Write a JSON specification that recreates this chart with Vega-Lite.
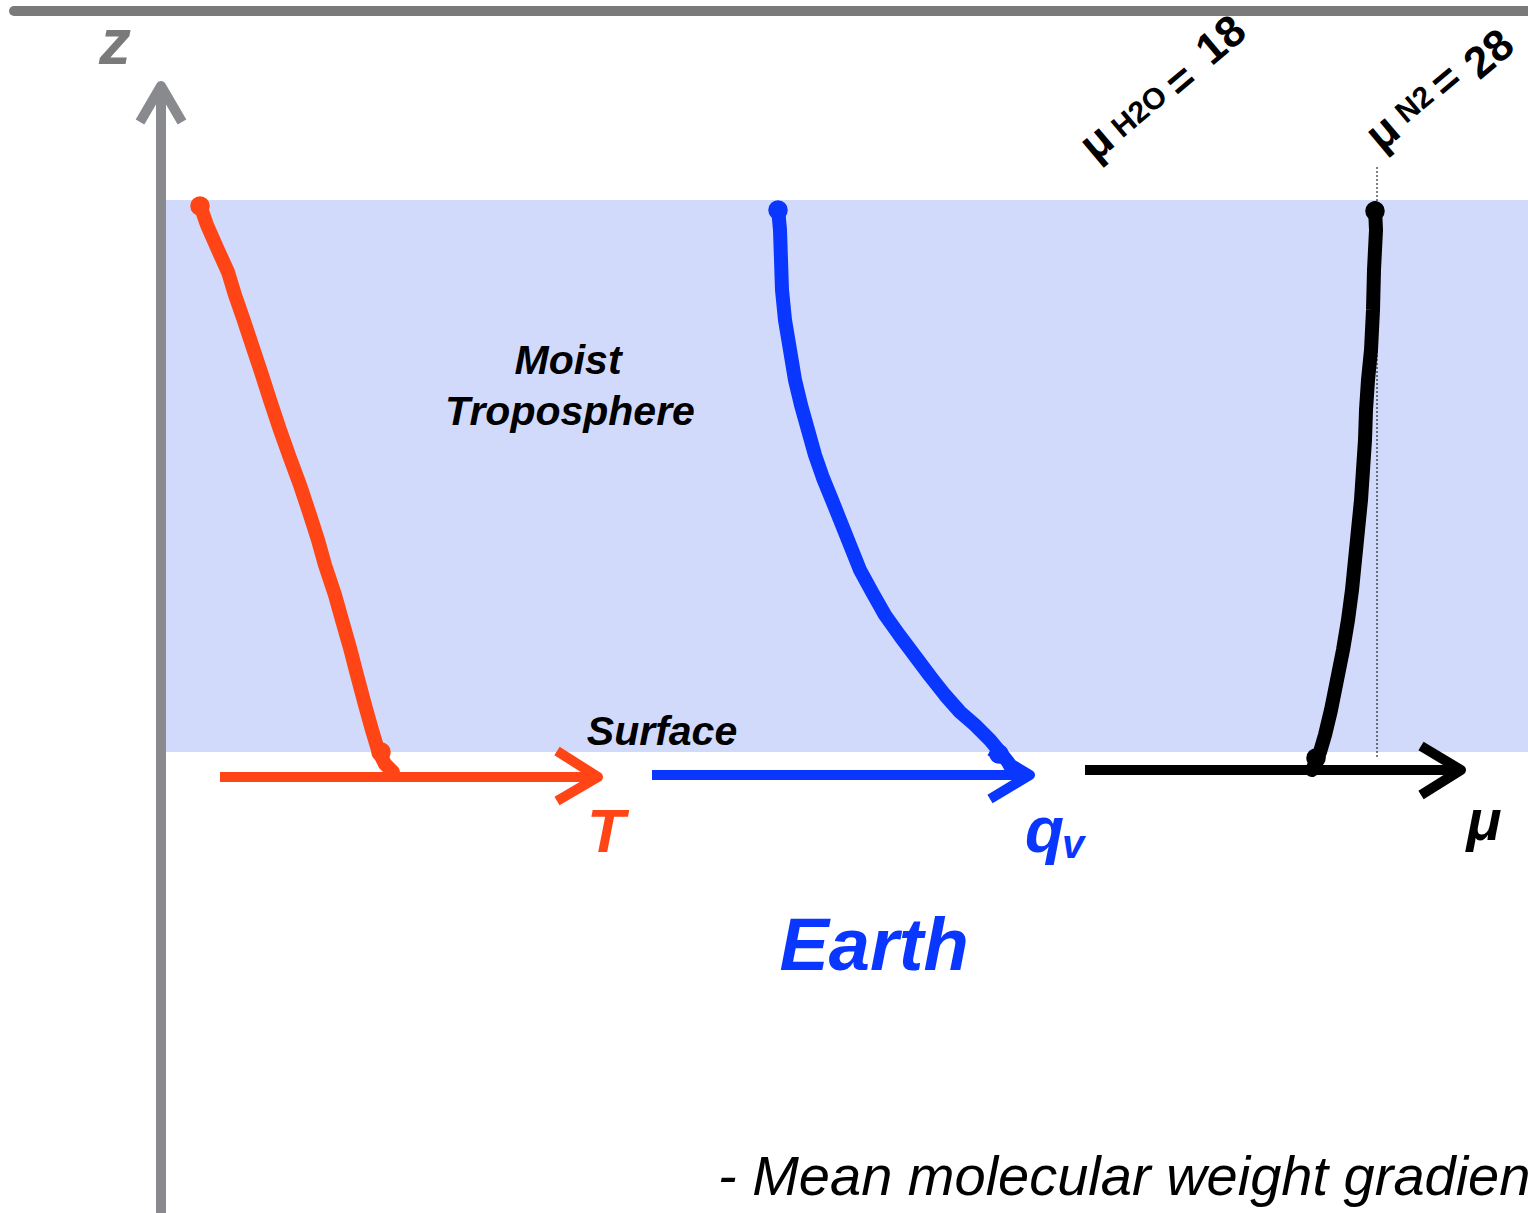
{
  "$schema": "https://vega.github.io/schema/vega-lite/v6.json",
  "autosize": "none",
  "width": 1528,
  "height": 1213,
  "padding": 0,
  "background": "white",
  "config": {"view": {"stroke": null}, "text": {"font": "Liberation Sans"}},
  "encoding": {
    "x": {"field": "x", "type": "quantitative", "scale": {"domain": [0, 1528], "nice": false, "zero": false}, "axis": null},
    "y": {"field": "y", "type": "quantitative", "scale": {"domain": [0, 1213], "nice": false, "zero": false, "reverse": true}, "axis": null}
  },
  "layer": [
    {
      "data": {"values": [{"x": 160, "x2": 1528, "y": 200, "y2": 752}]},
      "mark": {"type": "rect", "color": "#d2dafc"},
      "encoding": {"x2": {"field": "x2"}, "y2": {"field": "y2"}}
    },
    {
      "data": {"values": [{"x": 14, "y": 11}, {"x": 1535, "y": 11}]},
      "mark": {"type": "line", "color": "#7a7a7a", "strokeWidth": 10, "strokeCap": "round"},
      "encoding": {}
    },
    {
      "data": {"values": [{"x": 1377, "y": 167, "y2": 757}]},
      "mark": {"type": "rule", "color": "#000000", "strokeWidth": 1, "strokeDash": [2, 2]},
      "encoding": {"y2": {"field": "y2"}}
    },
    {
      "data": {"values": [
        {"s": "z", "seg": "z1", "i": 0, "x": 161, "y": 1220},
        {"s": "z", "seg": "z1", "i": 1, "x": 161, "y": 88},
        {"s": "z", "seg": "z2", "i": 0, "x": 140, "y": 122},
        {"s": "z", "seg": "z2", "i": 1, "x": 161, "y": 86},
        {"s": "z", "seg": "z2", "i": 2, "x": 182, "y": 122},
        {"s": "T", "seg": "T1", "i": 0, "x": 220, "y": 777},
        {"s": "T", "seg": "T1", "i": 1, "x": 595, "y": 777},
        {"s": "T", "seg": "T2", "i": 0, "x": 557, "y": 751},
        {"s": "T", "seg": "T2", "i": 1, "x": 598, "y": 777},
        {"s": "T", "seg": "T2", "i": 2, "x": 557, "y": 801},
        {"s": "q", "seg": "q1", "i": 0, "x": 652, "y": 775},
        {"s": "q", "seg": "q1", "i": 1, "x": 1027, "y": 775},
        {"s": "q", "seg": "q2", "i": 0, "x": 990, "y": 751},
        {"s": "q", "seg": "q2", "i": 1, "x": 1030, "y": 775},
        {"s": "q", "seg": "q2", "i": 2, "x": 990, "y": 799},
        {"s": "mu", "seg": "m1", "i": 0, "x": 1085, "y": 770},
        {"s": "mu", "seg": "m1", "i": 1, "x": 1458, "y": 770},
        {"s": "mu", "seg": "m2", "i": 0, "x": 1421, "y": 746},
        {"s": "mu", "seg": "m2", "i": 1, "x": 1461, "y": 770},
        {"s": "mu", "seg": "m2", "i": 2, "x": 1421, "y": 795}
      ]},
      "mark": {"type": "line", "strokeWidth": 10, "strokeJoin": "round"},
      "encoding": {
        "color": {"field": "s", "type": "nominal", "scale": {"domain": ["z", "T", "q", "mu"], "range": ["#888a8e", "#ff4416", "#0a37ff", "#000000"]}, "legend": null},
        "detail": {"field": "seg"},
        "order": {"field": "i", "type": "quantitative"}
      }
    },
    {
      "data": {"values": [
        {"s": "T", "i": 0, "x": 200, "y": 205}, {"s": "T", "i": 1, "x": 207, "y": 225}, {"s": "T", "i": 2, "x": 218, "y": 250}, {"s": "T", "i": 3, "x": 228, "y": 272},
        {"s": "T", "i": 4, "x": 235, "y": 295}, {"s": "T", "i": 5, "x": 243, "y": 318}, {"s": "T", "i": 6, "x": 252, "y": 345}, {"s": "T", "i": 7, "x": 262, "y": 375},
        {"s": "T", "i": 8, "x": 270, "y": 400}, {"s": "T", "i": 9, "x": 280, "y": 430}, {"s": "T", "i": 10, "x": 290, "y": 458}, {"s": "T", "i": 11, "x": 300, "y": 485},
        {"s": "T", "i": 12, "x": 310, "y": 515}, {"s": "T", "i": 13, "x": 318, "y": 540}, {"s": "T", "i": 14, "x": 325, "y": 565}, {"s": "T", "i": 15, "x": 335, "y": 595},
        {"s": "T", "i": 16, "x": 342, "y": 620}, {"s": "T", "i": 17, "x": 350, "y": 648}, {"s": "T", "i": 18, "x": 357, "y": 675}, {"s": "T", "i": 19, "x": 365, "y": 705},
        {"s": "T", "i": 20, "x": 372, "y": 730}, {"s": "T", "i": 21, "x": 378, "y": 750}, {"s": "T", "i": 22, "x": 385, "y": 764}, {"s": "T", "i": 23, "x": 393, "y": 772},
        {"s": "q", "i": 0, "x": 778, "y": 208}, {"s": "q", "i": 1, "x": 780, "y": 230}, {"s": "q", "i": 2, "x": 781, "y": 260}, {"s": "q", "i": 3, "x": 782, "y": 290},
        {"s": "q", "i": 4, "x": 785, "y": 320}, {"s": "q", "i": 5, "x": 790, "y": 350}, {"s": "q", "i": 6, "x": 795, "y": 380}, {"s": "q", "i": 7, "x": 801, "y": 405},
        {"s": "q", "i": 8, "x": 808, "y": 430}, {"s": "q", "i": 9, "x": 815, "y": 455}, {"s": "q", "i": 10, "x": 823, "y": 478}, {"s": "q", "i": 11, "x": 832, "y": 500},
        {"s": "q", "i": 12, "x": 840, "y": 520}, {"s": "q", "i": 13, "x": 850, "y": 545}, {"s": "q", "i": 14, "x": 860, "y": 570}, {"s": "q", "i": 15, "x": 872, "y": 592},
        {"s": "q", "i": 16, "x": 885, "y": 615}, {"s": "q", "i": 17, "x": 900, "y": 636}, {"s": "q", "i": 18, "x": 915, "y": 656}, {"s": "q", "i": 19, "x": 930, "y": 676},
        {"s": "q", "i": 20, "x": 945, "y": 695}, {"s": "q", "i": 21, "x": 960, "y": 712}, {"s": "q", "i": 22, "x": 975, "y": 725}, {"s": "q", "i": 23, "x": 990, "y": 740},
        {"s": "q", "i": 24, "x": 1000, "y": 752}, {"s": "q", "i": 25, "x": 1008, "y": 762}, {"s": "q", "i": 26, "x": 1013, "y": 771},
        {"s": "mu", "i": 0, "x": 1375, "y": 208}, {"s": "mu", "i": 1, "x": 1376, "y": 230}, {"s": "mu", "i": 2, "x": 1374, "y": 270}, {"s": "mu", "i": 3, "x": 1373, "y": 310},
        {"s": "mu", "i": 4, "x": 1371, "y": 350}, {"s": "mu", "i": 5, "x": 1368, "y": 380}, {"s": "mu", "i": 6, "x": 1366, "y": 410}, {"s": "mu", "i": 7, "x": 1365, "y": 440},
        {"s": "mu", "i": 8, "x": 1363, "y": 470}, {"s": "mu", "i": 9, "x": 1361, "y": 500}, {"s": "mu", "i": 10, "x": 1358, "y": 530}, {"s": "mu", "i": 11, "x": 1355, "y": 560},
        {"s": "mu", "i": 12, "x": 1352, "y": 590}, {"s": "mu", "i": 13, "x": 1348, "y": 620}, {"s": "mu", "i": 14, "x": 1343, "y": 650}, {"s": "mu", "i": 15, "x": 1337, "y": 680},
        {"s": "mu", "i": 16, "x": 1331, "y": 710}, {"s": "mu", "i": 17, "x": 1325, "y": 735}, {"s": "mu", "i": 18, "x": 1320, "y": 752}, {"s": "mu", "i": 19, "x": 1316, "y": 762},
        {"s": "mu", "i": 20, "x": 1312, "y": 770}
      ]},
      "mark": {"type": "line", "strokeWidth": 14, "strokeCap": "round", "strokeJoin": "round"},
      "encoding": {
        "color": {"field": "s", "type": "nominal", "scale": {"domain": ["z", "T", "q", "mu"], "range": ["#888a8e", "#ff4416", "#0a37ff", "#000000"]}, "legend": null},
        "detail": {"field": "s"},
        "order": {"field": "i", "type": "quantitative"}
      }
    },
    {
      "data": {"values": [
        {"s": "T", "x": 200, "y": 206}, {"s": "q", "x": 778, "y": 210}, {"s": "mu", "x": 1375, "y": 211},
        {"s": "T", "x": 381, "y": 752}, {"s": "q", "x": 999, "y": 754}, {"s": "mu", "x": 1316, "y": 758}
      ]},
      "mark": {"type": "point", "filled": true, "opacity": 1, "size": 380, "shape": "circle"},
      "encoding": {
        "color": {"field": "s", "type": "nominal", "scale": {"domain": ["z", "T", "q", "mu"], "range": ["#888a8e", "#ff4416", "#0a37ff", "#000000"]}, "legend": null}
      }
    },
    {
      "data": {"values": [{"x": 115, "y": 64, "t": "z"}]},
      "mark": {"type": "text", "fontSize": 64, "fontWeight": "bold", "fontStyle": "italic", "color": "#7a7a7a", "align": "center", "baseline": "alphabetic"},
      "encoding": {"text": {"field": "t"}}
    },
    {
      "data": {"values": [{"x": 568, "y": 374, "t": "Moist"}, {"x": 570, "y": 425, "t": "Troposphere"}, {"x": 662, "y": 745, "t": "Surface"}]},
      "mark": {"type": "text", "fontSize": 41, "fontWeight": "bold", "fontStyle": "italic", "color": "#000000", "align": "center", "baseline": "alphabetic"},
      "encoding": {"text": {"field": "t"}}
    },
    {
      "data": {"values": [{"x": 606, "y": 852, "t": "T"}]},
      "mark": {"type": "text", "fontSize": 62, "fontWeight": "bold", "fontStyle": "italic", "color": "#ff4416", "align": "center", "baseline": "alphabetic"},
      "encoding": {"text": {"field": "t"}}
    },
    {
      "data": {"values": [{"x": 1025, "y": 852, "t": "q"}]},
      "mark": {"type": "text", "fontSize": 64, "fontWeight": "bold", "fontStyle": "italic", "color": "#0a37ff", "align": "left", "baseline": "alphabetic"},
      "encoding": {"text": {"field": "t"}}
    },
    {
      "data": {"values": [{"x": 1062, "y": 858, "t": "v"}]},
      "mark": {"type": "text", "fontSize": 40, "fontWeight": "bold", "fontStyle": "italic", "color": "#0a37ff", "align": "left", "baseline": "alphabetic"},
      "encoding": {"text": {"field": "t"}}
    },
    {
      "data": {"values": [{"x": 1484, "y": 840, "t": "μ"}]},
      "mark": {"type": "text", "fontSize": 58, "fontWeight": "bold", "fontStyle": "italic", "color": "#000000", "align": "center", "baseline": "alphabetic"},
      "encoding": {"text": {"field": "t"}}
    },
    {
      "data": {"values": [{"x": 874, "y": 970, "t": "Earth"}]},
      "mark": {"type": "text", "fontSize": 74, "fontWeight": "bold", "fontStyle": "italic", "color": "#0a37ff", "align": "center", "baseline": "alphabetic"},
      "encoding": {"text": {"field": "t"}}
    },
    {
      "data": {"values": [{"x": 718, "y": 1195, "t": "- Mean molecular weight gradient"}]},
      "mark": {"type": "text", "fontSize": 56, "fontStyle": "italic", "color": "#000000", "align": "left", "baseline": "alphabetic"},
      "encoding": {"text": {"field": "t"}}
    },
    {
      "data": {"values": [{"x": 1097, "y": 143, "t": "μ"}, {"x": 1383, "y": 133, "t": "μ"}]},
      "mark": {"type": "text", "fontSize": 46, "fontWeight": "bold", "color": "#000000", "align": "center", "baseline": "middle", "angle": 320},
      "encoding": {"text": {"field": "t"}}
    },
    {
      "data": {"values": [{"x": 1222, "y": 41, "t": "18"}, {"x": 1182, "y": 82, "t": "="}, {"x": 1447, "y": 82, "t": "="}, {"x": 1490, "y": 55, "t": "28"}]},
      "mark": {"type": "text", "fontSize": 44, "fontWeight": "bold", "color": "#000000", "align": "center", "baseline": "middle", "angle": 320},
      "encoding": {"text": {"field": "t"}}
    },
    {
      "data": {"values": [{"x": 1140, "y": 112, "t": "H2O"}, {"x": 1415, "y": 105, "t": "N2"}]},
      "mark": {"type": "text", "fontSize": 30, "fontWeight": "bold", "color": "#000000", "align": "center", "baseline": "middle", "angle": 320},
      "encoding": {"text": {"field": "t"}}
    }
  ]
}
